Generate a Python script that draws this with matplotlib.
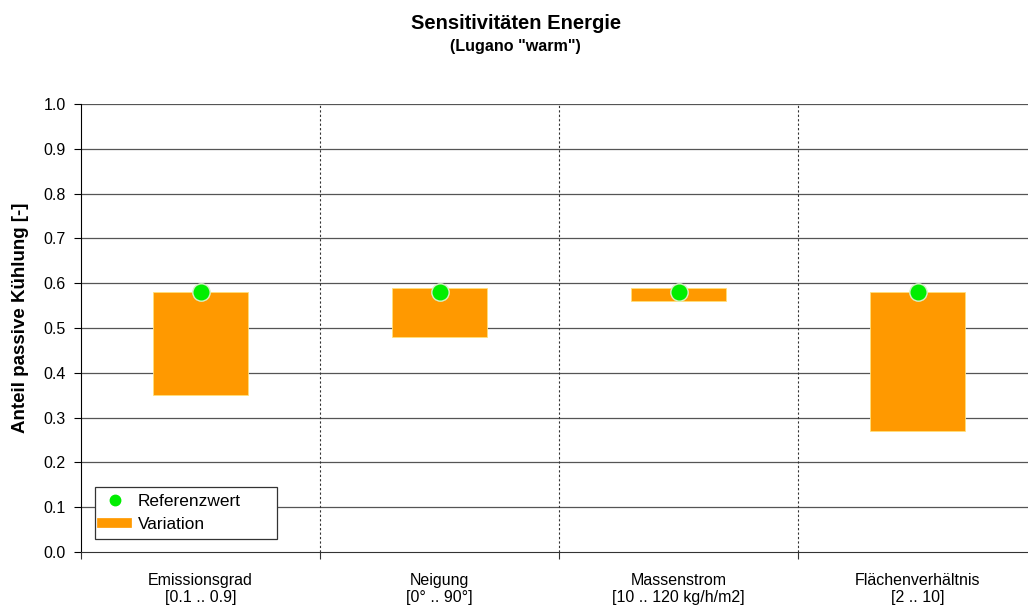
import numpy as np
import matplotlib.pyplot as plt
from matplotlib.lines import Line2D

plt.rcParams['font.family'] = ['Liberation Sans', 'DejaVu Sans']

# Parameter und Wertebereiche
categories = ['Emissionsgrad\n[0.1 .. 0.9]', 'Neigung\n[0° .. 90°]',
              'Massenstrom\n[10 .. 120 kg/h/m2]', 'Flächenverhältnis\n[2 .. 10]']
ref_values = [0.58, 0.58, 0.58, 0.58]   # Referenzwert
var_low = [0.35, 0.48, 0.56, 0.27]      # Variation min
var_high = [0.58, 0.59, 0.59, 0.58]     # Variation max
y_ticks = [0.0, 0.1, 0.2, 0.3, 0.4, 0.5, 0.6, 0.7, 0.8, 0.9, 1.0]

fig = plt.figure(figsize=(10.28, 6.08), dpi=100)
ax = fig.add_axes([0.0788, 0.0921, 0.930, 0.737])

x = np.arange(len(categories)) + 0.5
low = np.array(var_low)
high = np.array(var_high)

# Variationsbalken
ax.bar(x, high - low, bottom=low, width=0.4, color='#FF9900',
       edgecolor='#FFE07A', linewidth=0.6, zorder=3)
# Referenzpunkte
ax.plot(x, ref_values, linestyle='none', marker='o', markersize=12.5,
        markerfacecolor='#00EE00', markeredgecolor='#D8F0C8', markeredgewidth=1.0, zorder=4)

# Gitter
for yv in y_ticks[1:]:
    ax.axhline(yv, color='#555555', linewidth=0.9, zorder=1)
for xv in [1, 2, 3]:
    ax.axvline(xv, color='#333333', linewidth=0.8, linestyle=(0, (2, 2)), zorder=1)

ax.set_xlim(0, 4)
ax.set_ylim(0, 1.0)
ax.set_yticks(y_ticks)
ax.set_yticklabels([f'{v:.1f}' for v in y_ticks], fontsize=11.5)
ax.set_xticks([0, 1, 2, 3, 4])
ax.set_xticklabels([])
ax.set_xticks(x, minor=True)
ax.set_xticklabels(categories, minor=True, fontsize=11.5)
ax.tick_params(axis='x', which='minor', length=0, pad=15)
ax.tick_params(axis='x', which='major', length=5, direction='out', color='#333333')
ax.tick_params(axis='y', length=5, direction='out', pad=6)

for side in ['top', 'right']:
    ax.spines[side].set_visible(False)
ax.spines['left'].set_color('black')
ax.spines['bottom'].set_color('#333333')

ax.set_ylabel('Anteil passive Kühlung [-]', fontsize=13.5, fontweight='bold')
ax.yaxis.set_label_coords(-0.054, 0.522)

# Legende
handles = [Line2D([], [], linestyle='none', marker='o', markersize=7.5,
                  markerfacecolor='#00EE00', markeredgecolor='#00EE00'),
           Line2D([], [], color='#FF9900', linewidth=7)]
leg = ax.legend(handles, ['Referenzwert', 'Variation'], loc='lower left',
                bbox_to_anchor=(0.0146, 0.029, 0.190, 0.12), mode='expand',
                fontsize=12.4, fancybox=False, framealpha=1, edgecolor='#333333',
                handlelength=1.45, handletextpad=0.6, borderpad=0.42,
                labelspacing=0.45, borderaxespad=0)
leg.get_frame().set_linewidth(0.9)
leg.set_zorder(5)

fig.text(0.502, 0.962, 'Sensitivitäten Energie', ha='center', va='center',
         fontsize=14.5, fontweight='bold')
fig.text(0.501, 0.923, '(Lugano "warm")', ha='center', va='center',
         fontsize=11.6, fontweight='bold')

fig.savefig('out.png', dpi=100)
